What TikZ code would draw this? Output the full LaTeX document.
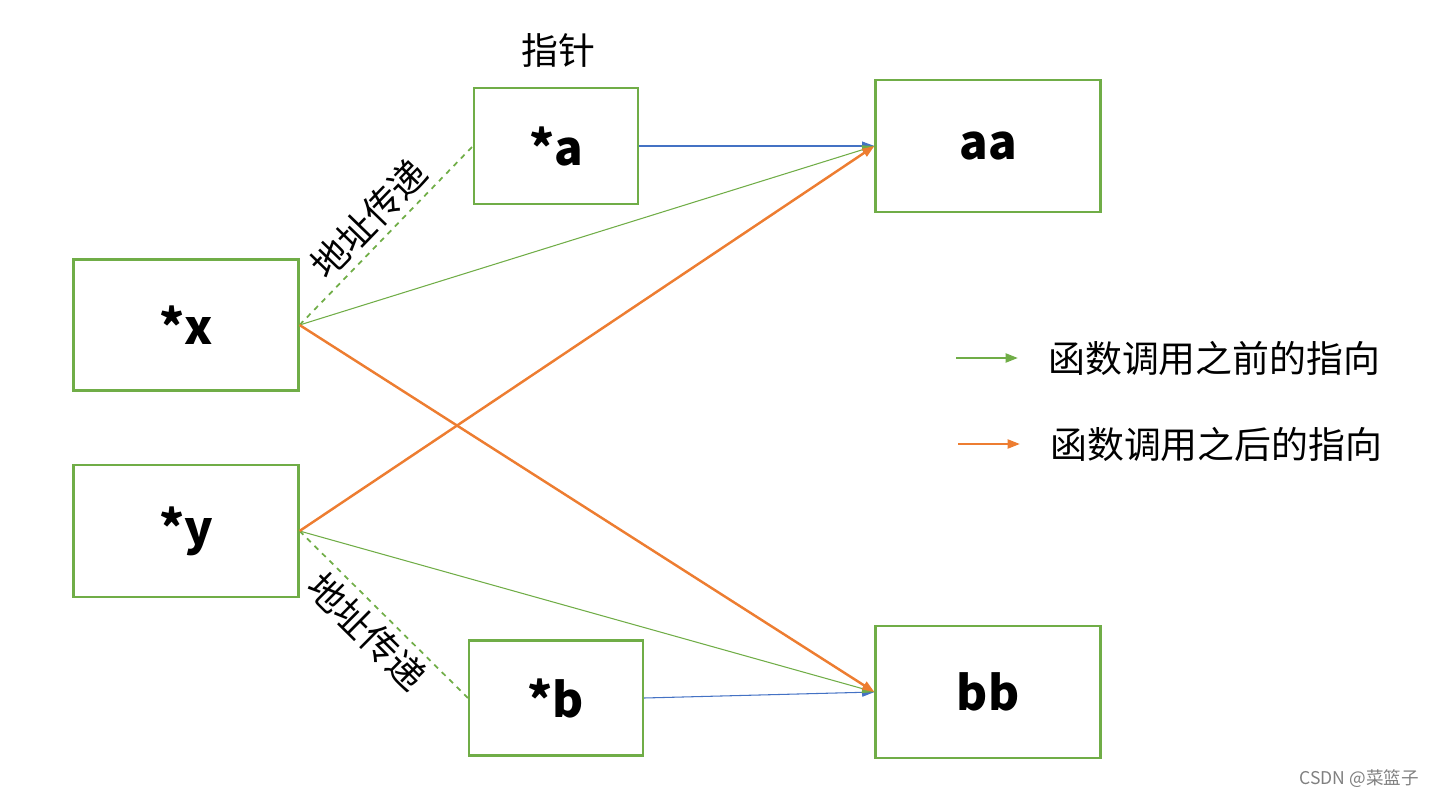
\documentclass[tikz,border=0pt]{standalone}
\usepackage{fontspec}
\setmainfont{Noto Sans CJK SC}
\usetikzlibrary{arrows.meta,positioning}
\definecolor{boxgreen}{HTML}{70AD47}
\definecolor{arrorange}{HTML}{ED7D31}
\definecolor{arrblue}{HTML}{4472C4}
\tikzset{
	var/.style={draw=boxgreen, line width=1.2pt, inner sep=0,
		font=\fontsize{27}{32}\selectfont\bfseries},
	tip/.style={-{Triangle[length=7pt,width=5pt]}},
	before/.style={tip, draw=boxgreen, line width=0.6pt},
	after/.style={tip, draw=arrorange, line width=1.4pt},
	link/.style={tip, draw=arrblue, line width=0.6pt},
	pass/.style={draw=boxgreen, dashed, line width=1pt},
	cjk/.style={font=\fontsize{21}{25}\selectfont}
}
\begin{document}
\begin{tikzpicture}[x=0.02cm,y=-0.02cm]
	\useasboundingbox (0,0) rectangle (1437,798);
	% variables
	\node[var, minimum width=164*0.02cm, minimum height=116*0.02cm] (pa) at (556,146) {*a};
	\node[var, minimum width=174*0.02cm, minimum height=115*0.02cm] (pb) at (556,698) {*b};
	\node[var, minimum width=225*0.02cm, minimum height=131*0.02cm] (px) at (186,325) {*x};
	\node[var, minimum width=225*0.02cm, minimum height=132*0.02cm] (py) at (186,531) {*y};
	\node[var, minimum width=225*0.02cm, minimum height=132*0.02cm] (aa) at (988,146) {aa};
	\node[var, minimum width=225*0.02cm, minimum height=132*0.02cm] (bb) at (988,692) {bb};
	\node[cjk] (ptr) at (558,50) {指针};
	% connectors
	\draw[pass] (px.east) -- node[cjk, sloped, above] (pxa) {地址传递} (pa.west);
	\draw[pass] (py.east) -- node[cjk, sloped, below] (pyb) {地址传递} (pb.west);
	\draw[link] (pa.east) -- (aa.west);
	\draw[link] (pb.east) -- (bb.west);
	\draw[before] (px.east) -- (aa.west);
	\draw[before] (py.east) -- (bb.west);
	\draw[after] (px.east) -- (bb.west);
	\draw[after] (py.east) -- (aa.west);
	% legend
	\coordinate (g0) at (956,358);
	\coordinate (g1) at (1018,358);
	\coordinate (o0) at (958,444);
	\coordinate (o1) at (1020,444);
	\draw[before, line width=1.4pt] (g0) -- (g1);
	\draw[after] (o0) -- (o1);
	\node[cjk, anchor=west] (lg) at (1042,358) {函数调用之前的指向};
	\node[cjk, anchor=west] (lo) at (1044,444) {函数调用之后的指向};
	\node[font=\fontsize{10}{12}\selectfont, text=gray, anchor=east] (mark) at (1425,779) {CSDN @菜篮子};
\end{tikzpicture}
\end{document}
